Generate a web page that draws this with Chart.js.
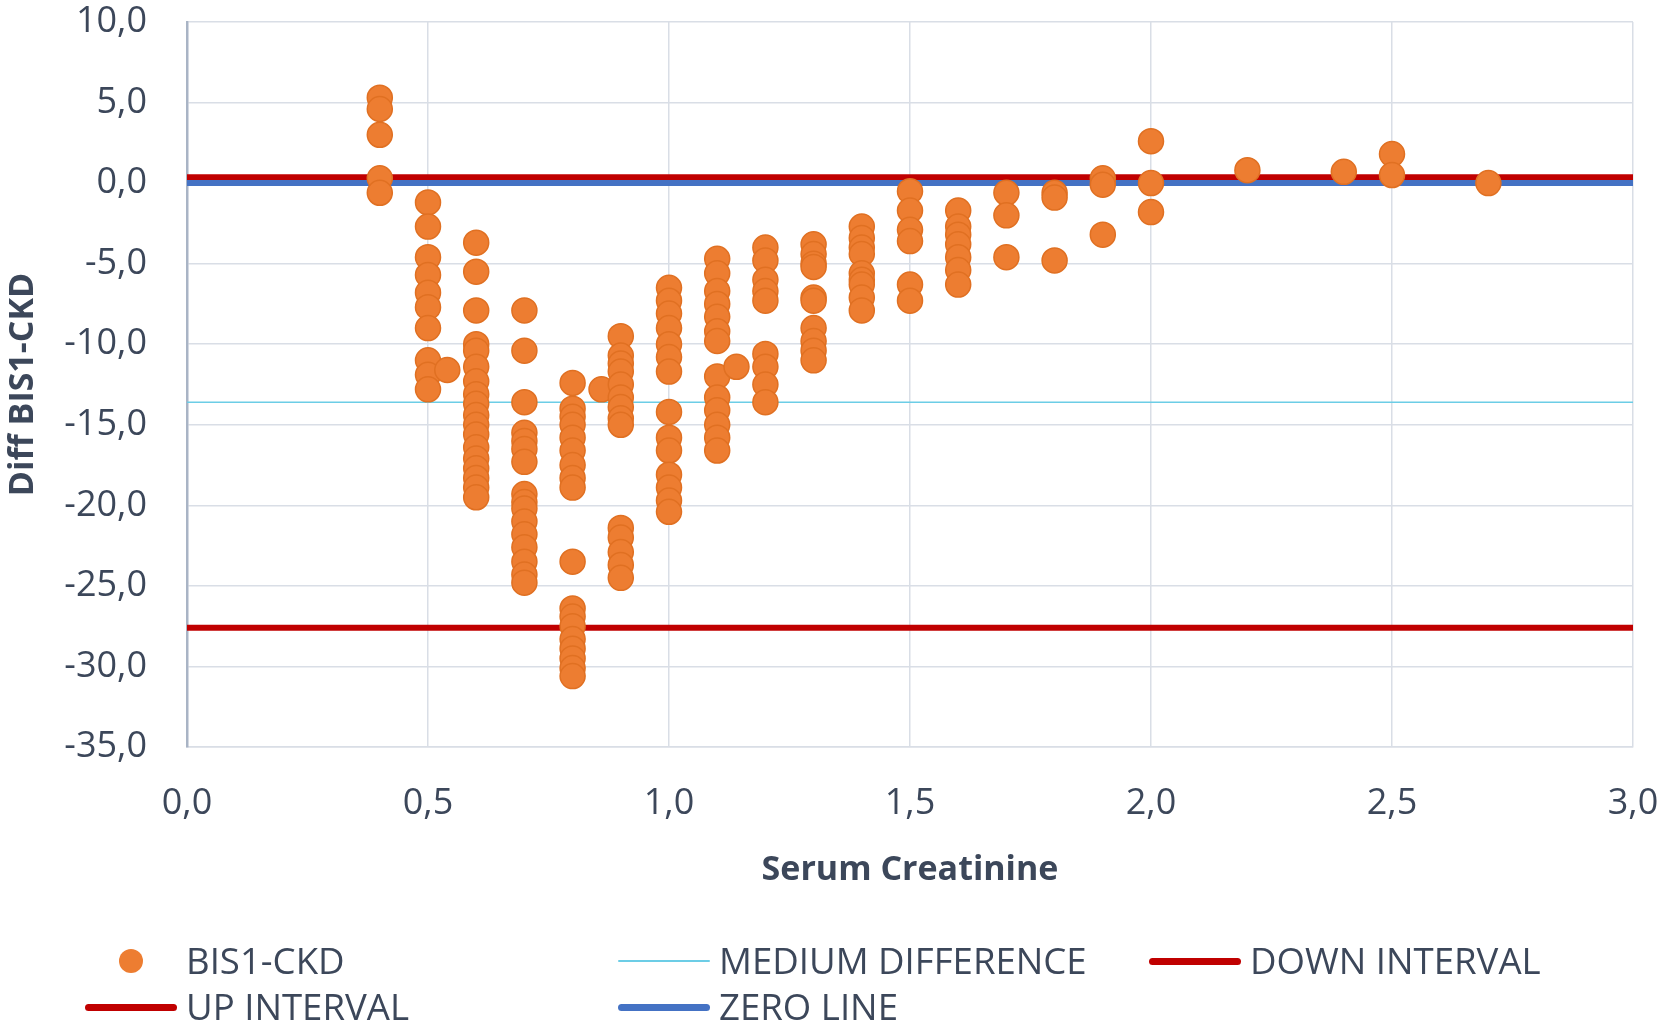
<!DOCTYPE html>
<html>
<head>
<meta charset="utf-8">
<script src="https://cdn.jsdelivr.net/npm/chart.js@4.4.0/dist/chart.umd.min.js"></script>
<style>
  html, body { margin: 0; padding: 0; background: #ffffff; }
  #wrap { position: relative; width: 1665px; height: 1027px; overflow: hidden; }
  #c { position: absolute; left: 0; top: 0; }
  .leg { position: absolute; display: flex; align-items: center; height: 40px; font-family: 'Open Sans', sans-serif; font-size: 36.6px; color: #3C475A; white-space: nowrap; }
  .sym { position: absolute; top: 0; height: 40px; }
  .txt { position: absolute; top: 0px; line-height: 40px; }
</style>
</head>
<body>
<div id="wrap">
  <canvas id="c" width="1665" height="1027" style="width:1665px;height:1027px"></canvas>
  <div id="legend"></div>
</div>
<script>
// ---------- DATA ----------
const xAxisTitle = 'Serum Creatinine';
const yAxisTitle = 'Diff BIS1-CKD';

const seriesName = 'BIS1-CKD';
const mediumName = 'MEDIUM DIFFERENCE';
const downName = 'DOWN INTERVAL';
const upName = 'UP INTERVAL';
const zeroName = 'ZERO LINE';

// creatinine levels (x) and the differences observed at each level (y)
const creatinineLevels = [0.4, 0.5, 0.54, 0.6, 0.7, 0.8, 0.86, 0.9, 1.0, 1.1, 1.14, 1.2, 1.3, 1.4, 1.5, 1.6, 1.7, 1.8, 1.9, 2.0, 2.2, 2.4, 2.5, 2.7];
const diffsByLevel = [
  [5.3, 4.6, 3.0, 0.3, -0.6],
  [-1.2, -2.7, -4.6, -5.7, -6.8, -7.7, -9.0, -11.0, -11.9, -12.8],
  [-11.6],
  [-3.7, -5.5, -7.9, -10.0, -10.4, -11.4, -12.3, -13.1, -13.7, -14.4, -15.0, -15.6, -16.4, -17.1, -17.7, -18.3, -18.9, -19.5],
  [-7.9, -10.4, -13.6, -15.5, -16.0, -16.5, -17.3, -19.3, -19.8, -20.2, -21.0, -21.8, -22.6, -23.5, -24.3, -24.8],
  [-12.4, -14.0, -14.5, -15.0, -15.8, -16.6, -17.5, -18.3, -18.9, -23.5, -26.4, -26.9, -27.5, -28.3, -28.9, -29.5, -30.1, -30.6],
  [-12.8],
  [-9.5, -10.7, -11.2, -11.7, -12.5, -13.3, -13.9, -14.6, -15.0, -21.4, -22.0, -22.9, -23.7, -24.5],
  [-6.5, -7.3, -8.1, -9.0, -10.0, -10.8, -11.7, -14.2, -15.8, -16.6, -18.1, -18.9, -19.7, -20.4],
  [-4.7, -5.6, -6.7, -7.5, -8.3, -9.2, -9.8, -12.0, -13.3, -14.1, -15.0, -15.8, -16.6],
  [-11.4],
  [-4.0, -4.8, -6.0, -6.7, -7.3, -10.6, -11.4, -12.5, -13.6],
  [-3.8, -4.4, -5.0, -5.2, -7.1, -7.3, -9.0, -9.8, -10.4, -11.0],
  [-2.7, -3.4, -4.0, -4.4, -5.6, -6.0, -6.3, -7.1, -7.9],
  [-0.5, -1.7, -2.9, -3.6, -6.3, -7.3],
  [-1.7, -2.7, -3.2, -3.8, -4.6, -5.4, -6.3],
  [-0.6, -2.0, -4.6],
  [-0.6, -0.9, -4.8],
  [0.3, -0.1, -3.2],
  [2.6, 0.0, -1.8],
  [0.8],
  [0.7],
  [1.8, 0.5],
  [0.0]
];

// reference lines (Bland-Altman style)
const mediumDifference = -13.6;
const downInterval = -27.6;
const upInterval = 0.37;
const zeroLine = 0;

// axis ranges / ticks
const xMin = 0, xMax = 3, xStep = 0.5;
const yMin = -35, yMax = 10, yStep = 5;

// ---------- BUILD ----------
const scatterPoints = [];
creatinineLevels.forEach((lv, i) => {
  diffsByLevel[i].forEach(d => scatterPoints.push({ x: lv, y: d }));
});
const hLine = v => [{ x: xMin, y: v }, { x: xMax, y: v }];
const fmt = v => Number(v).toFixed(1).replace('.', ',');

const ORANGE = '#ED7D31';
const ORANGE_EDGE = '#E07022';
const RED = '#C00000';
const BLUE = '#4472C4';
const CYAN = '#6CCDE6';
const GRID = '#D9DEE6';
const TXT = '#3C475A';

const datasets = [
  { type: 'scatter', label: seriesName, data: scatterPoints, backgroundColor: ORANGE, borderColor: ORANGE_EDGE, borderWidth: 1.5, pointRadius: 12.5, pointHoverRadius: 12.5, showLine: false, order: 0 },
  { type: 'line', label: mediumName, data: hLine(mediumDifference), borderColor: CYAN, backgroundColor: CYAN, borderWidth: 1.5, pointRadius: 0, showLine: true, fill: false, order: 4 },
  { type: 'line', label: downName, data: hLine(downInterval), borderColor: RED, backgroundColor: RED, borderWidth: 6, pointRadius: 0, showLine: true, fill: false, order: 2 },
  { type: 'line', label: upName, data: hLine(upInterval), borderColor: RED, backgroundColor: RED, borderWidth: 6, pointRadius: 0, showLine: true, fill: false, order: 3 },
  { type: 'line', label: zeroName, data: hLine(zeroLine), borderColor: BLUE, backgroundColor: BLUE, borderWidth: 6, pointRadius: 0, showLine: true, fill: false, order: 1 }
];

const chart = new Chart(document.getElementById('c'), {
  type: 'scatter',
  data: { datasets },
  options: {
    responsive: false,
    animation: false,
    events: [],
    layout: { padding: { left: 0, right: 32, top: 22, bottom: 136 } },
    plugins: { legend: { display: false }, tooltip: { enabled: false } },
    scales: {
      x: {
        type: 'linear', min: xMin, max: xMax,
        afterFit: s => { s.height = 144; s.paddingLeft = 0; s.paddingRight = 0; },
        ticks: { stepSize: xStep, padding: 35, color: TXT, font: { family: 'Open Sans', size: 36 }, callback: fmt },
        grid: { color: GRID, lineWidth: 1.5, drawTicks: false },
        border: { color: GRID, width: 1.5 },
        title: { display: true, text: xAxisTitle, color: TXT, font: { family: 'Open Sans', size: 34, weight: 'bold' }, padding: { top: 0, bottom: 0 } }
      },
      y: {
        type: 'linear', min: yMin, max: yMax,
        afterFit: s => { s.width = 187; s.paddingTop = 0; s.paddingBottom = 0; },
        ticks: { stepSize: yStep, padding: 40, color: TXT, font: { family: 'Open Sans', size: 36 }, callback: fmt },
        grid: { color: GRID, lineWidth: 1.5, drawTicks: false },
        border: { color: '#A9B4C5', width: 2.5 },
        title: { display: true, text: yAxisTitle, color: TXT, font: { family: 'Open Sans', size: 34, weight: 'bold' }, padding: { top: 3, bottom: 0 } }
      }
    }
  }
});

// ---------- LEGEND (HTML, generated from the datasets) ----------
const legendCols = [85, 618, 1149];
const legendRows = [960, 1006];
const legendSlots = [[0, 0], [1, 0], [2, 0], [0, 1], [1, 1]];
const legendEl = document.getElementById('legend');
chart.data.datasets.forEach((ds, i) => {
  const [c, r] = legendSlots[i];
  const item = document.createElement('div');
  item.className = 'leg';
  item.style.left = legendCols[c] + 'px';
  item.style.top = (legendRows[r] - 20) + 'px';
  const sym = document.createElement('div');
  sym.className = 'sym';
  sym.style.left = '0px';
  sym.style.width = '92px';
  if (ds.type === 'scatter') {
    const dot = document.createElement('div');
    dot.style.cssText = `position:absolute;left:${46 - 12}px;top:${21 - 12}px;width:24px;height:24px;border-radius:50%;background:${ds.backgroundColor};`;
    sym.appendChild(dot);
  } else {
    const lw = ds.borderWidth < 3 ? 2 : 7;
    const ln = document.createElement('div');
    ln.style.cssText = `position:absolute;left:0;top:${21 - lw / 2}px;width:92px;height:${lw}px;border-radius:${lw / 2}px;background:${ds.borderColor};`;
    sym.appendChild(ln);
  }
  const txt = document.createElement('div');
  txt.className = 'txt';
  txt.style.left = '101px';
  txt.textContent = ds.label;
  item.appendChild(sym);
  item.appendChild(txt);
  legendEl.appendChild(item);
});
</script>
</body>
</html>
